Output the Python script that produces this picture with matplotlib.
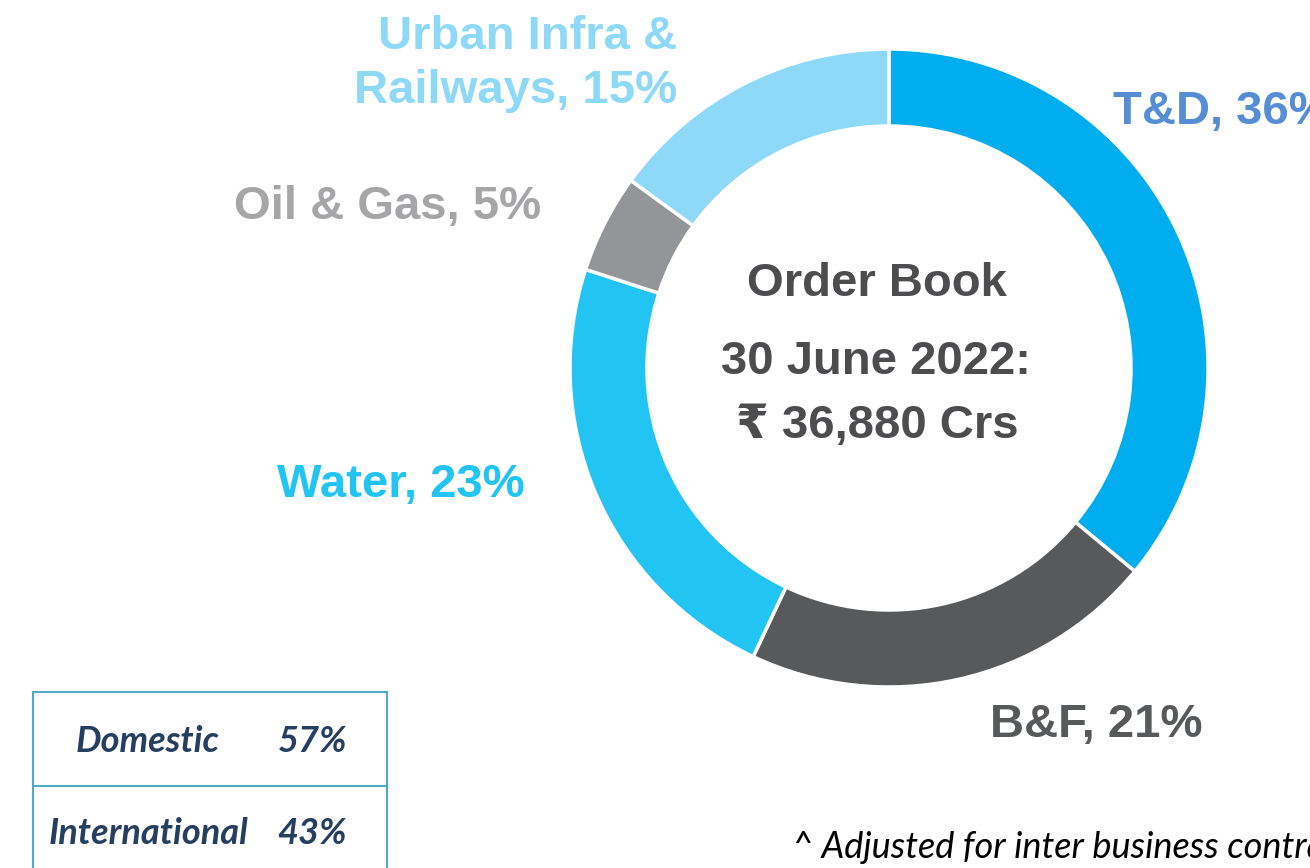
import matplotlib
matplotlib.use('Agg')
import matplotlib.pyplot as plt

# order book split by business
segments = ['T&D', 'B&F', 'Water', 'Oil & Gas', 'Urban Infra &\nRailways']
shares = [36, 21, 23, 5, 15]
wedge_colors = ['#00AEEF', '#58595B', '#21C4F3', '#939598', '#8ED8F8']
label_colors = ['#558ED5', '#58595B', '#21C4F3', '#A6A6A8', '#8ED8F8']

geo_names = ['Domestic', 'International']
geo_shares = [57, 43]

W, H = 1310, 868
fig = plt.figure(figsize=(W / 100, H / 100), dpi=100)
ax = fig.add_axes([0, 0, 1, 1])

def Y(py):
    # pixel row from top -> data y
    return H - py

fonts = ['Liberation Sans', 'DejaVu Sans']
cal = ['Lato', 'DejaVu Sans']

ax.pie(shares, colors=wedge_colors, startangle=90, counterclock=False,
       center=(889, Y(368)), radius=319,
       wedgeprops=dict(width=77, edgecolor='white', linewidth=2.5))
ax.set_xlim(0, W)
ax.set_ylim(0, H)
ax.set_aspect('equal')
ax.axis('off')

# segment labels (T&D runs off the right edge, as in the original slide)
label_pos = [(1113, 112, 'left'), (990, 725, 'left'), (525, 485, 'right'),
             (541, 207, 'right'), (677, 64, 'right')]
for name, s, c, (x, y, ha) in zip(segments, shares, label_colors, label_pos):
    ax.text(x, Y(y), f'{name}, {s}%', color=c, fontsize=34, fontweight='bold',
            family=fonts, ha=ha, va='center', linespacing=1.27)

# centre text
cc = '#4D4D4F'
ax.text(877, Y(284), 'Order Book', color=cc, fontsize=34, fontweight='bold',
        family=fonts, ha='center', va='center')
ax.text(876, Y(362), '30 June 2022:', color=cc, fontsize=34, fontweight='bold',
        family=fonts, ha='center', va='center')
ax.text(877, Y(426), '\u20b9 36,880 Crs', color=cc, fontsize=34, fontweight='bold',
        family=fonts, ha='center', va='center')

# domestic / international box
bc = '#4BACC6'
ax.plot([33, 387], [Y(692), Y(692)], color=bc, lw=1.5)
ax.plot([33, 387], [Y(786), Y(786)], color=bc, lw=1.5)
ax.plot([33, 33], [Y(692), Y(H + 5)], color=bc, lw=1.5)
ax.plot([387, 387], [Y(692), Y(H + 5)], color=bc, lw=1.5)
tc = '#243F60'
for i, (g, v) in enumerate(zip(geo_names, geo_shares)):
    yy = Y(741 + i * 92)
    ax.text(148, yy, g, color=tc, fontsize=26, fontweight='bold',
            style='italic', family=cal, ha='center', va='center')
    ax.text(347, yy, f'{v}%', color=tc, fontsize=26, fontweight='bold',
            style='italic', family=cal, ha='right', va='center')

ax.text(792, Y(847), '^ Adjusted for inter business contracts', color='black',
        fontsize=26, style='italic', family=cal, ha='left', va='center')

fig.savefig('out.png', dpi=100)
